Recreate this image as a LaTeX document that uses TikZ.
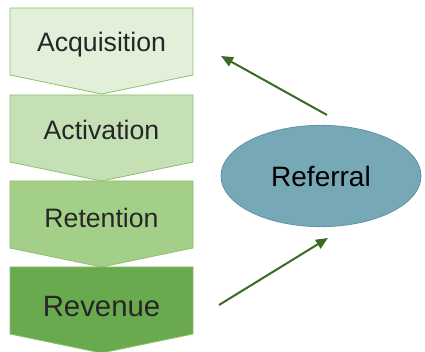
\documentclass[tikz,border=0pt]{standalone}
\usepackage{fontspec}
\setmainfont{Liberation Sans}
\usetikzlibrary{arrows.meta,shapes.geometric}

\definecolor{acqfill}{HTML}{E2EFD9}
\definecolor{actfill}{HTML}{C5E0B4}
\definecolor{retfill}{HTML}{A3CF88}
\definecolor{revfill}{HTML}{6AAA4F}
\definecolor{stageline}{HTML}{8DBF6E}
\definecolor{reffill}{HTML}{76A8B6}
\definecolor{refline}{HTML}{5F95A4}
\definecolor{arrowgreen}{HTML}{3A6B22}
\tikzset{
  stage/.style={draw=stageline,line width=0.6pt},
  label/.style={anchor=base,text=black!85},
  referral/.style={ellipse,fill=reffill,draw=refline,line width=0.6pt,
    minimum width=150pt,minimum height=76pt,font=\fontsize{21}{25}\selectfont},
  loop/.style={-{Triangle[length=9pt,width=7.5pt]},line width=1.5pt,draw=arrowgreen},
}

\begin{document}
\begin{tikzpicture}[x=0.75pt,y=-0.75pt]
  \useasboundingbox (0,0) rectangle (425,352);
  \foreach \name/\fillc/\top/\base/\size/\txt in
    {acq/acqfill/8/44/20/Acquisition, act/actfill/95/45/20/Activation,
     ret/retfill/181/47/20/Retention, rev/revfill/267/50/22/Revenue}
  {
    \draw [stage,fill=\fillc] (10,\top) -- (193,\top) -- (193,\top+67)
      -- (101.5,\top+86) -- (10,\top+67) -- cycle;
    \node [label,font=\fontsize{\size}{\size}\selectfont] (\name)
      at (101.5,\top+\base) {\txt};
  }
  \node [referral] (ref) at (321,176) {Referral};
  % free ends of the two connectors
  \coordinate (upfrom) at (327,115);
  \coordinate (upto) at (221,56);
  \coordinate (lowfrom) at (219,305);
  \coordinate (lowto) at (328,238);
  \draw [loop] (upfrom) -- (upto);
  \draw [loop] (lowfrom) -- (lowto);
\end{tikzpicture}
\end{document}
